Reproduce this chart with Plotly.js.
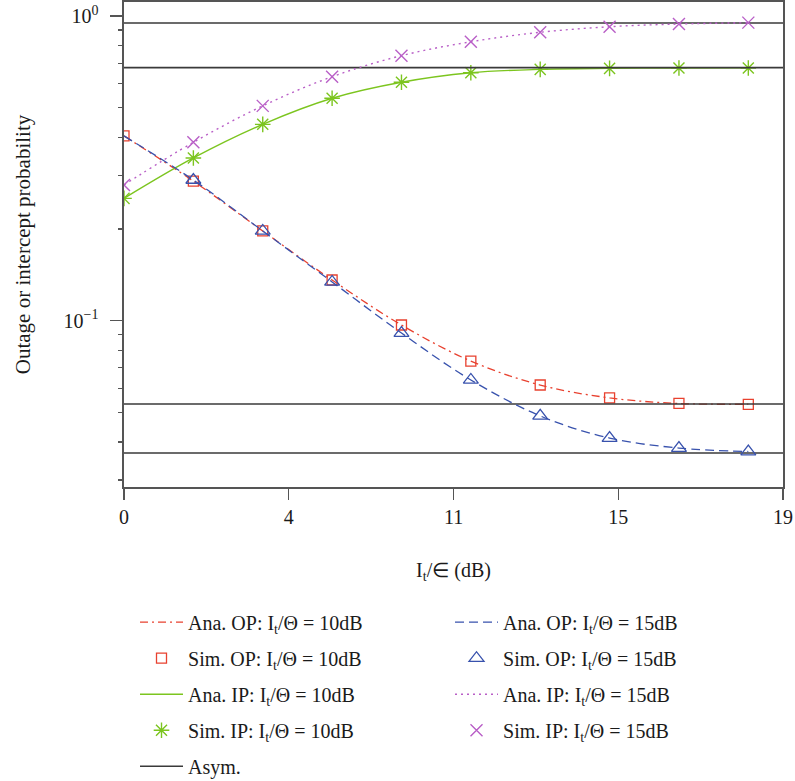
<!DOCTYPE html>
<html>
<head>
<meta charset="utf-8">
<script src="https://cdn.plot.ly/plotly-3.0.1.min.js"></script>
<style>
  html, body { margin: 0; padding: 0; background: #ffffff; }
  #chart { width: 795px; height: 781px; }
</style>
</head>
<body>
<div id="chart"></div>
<script>
// Transmit-power-to-threshold ratio I_t/∈ (dB), sampled points
const xVals = [0, 2, 4, 6, 8, 10, 12, 14, 16, 18];
// Simulated OP at 15 dB: first sample sits just left of the origin
const xSimOP15 = [-0.2, 2, 4, 6, 8, 10, 12, 14, 16, 18];

// Outage probability (OP), I_t/Θ = 10 dB
const opAna10 = [0.404, 0.287, 0.197, 0.136, 0.0968, 0.0737, 0.0615, 0.0558, 0.0535, 0.0532];
const opSim10 = [0.404, 0.287, 0.197, 0.136, 0.0968, 0.0737, 0.0615, 0.0558, 0.0535, 0.0531];
// Outage probability (OP), I_t/Θ = 15 dB
const opAna15 = [0.404, 0.2895, 0.197, 0.134, 0.0911, 0.0639, 0.0487, 0.0412, 0.0382, 0.0372];
const opSim15 = [0.407, 0.2895, 0.197, 0.134, 0.0911, 0.0639, 0.0487, 0.0412, 0.0382, 0.0372];
// Intercept probability (IP), I_t/Θ = 10 dB
const ipAna10 = [0.252, 0.342, 0.441, 0.537, 0.606, 0.651, 0.668, 0.673, 0.675, 0.676];
const ipSim10 = [0.252, 0.342, 0.441, 0.537, 0.606, 0.651, 0.668, 0.673, 0.675, 0.675];
// Intercept probability (IP), I_t/Θ = 15 dB
const ipAna15 = [0.279, 0.385, 0.507, 0.632, 0.741, 0.823, 0.884, 0.922, 0.941, 0.950];
const ipSim15 = [0.279, 0.385, 0.507, 0.632, 0.741, 0.823, 0.884, 0.922, 0.941, 0.951];

// High-SNR asymptotes
const asymLevels = [0.948, 0.677, 0.0533, 0.0368];
const xSpan = [0, 19];

// Axis ticks
const xTickVals = [0, 4.75, 9.5, 14.25, 19];
const xTickText = ['0', '4', '11', '15', '19'];
const yTickVals = [0.1, 1];
const yTickText = ['10<sup>−1</sup>', '10<sup>0</sup>'];
const yMinorVals = [0.03, 0.04, 0.05, 0.06, 0.07, 0.08, 0.09, 0.2, 0.3, 0.4, 0.5, 0.6, 0.7, 0.8, 0.9];

const FONT = 'Liberation Serif, Times New Roman, serif';
const INK = '#1a1a1a';
const RED = '#e8412f', BLUE = '#3852ad', GREEN = '#7cc51f', PURPLE = '#b95fc7', ASYM = '#3a3a3a';

const label = (kind, db) => kind + ': I<sub>t</sub>/Θ = ' + db + 'dB';

// build the asymptote polyline: one horizontal segment per level
const asymX = [], asymY = [];
asymLevels.forEach(v => { asymX.push(xSpan[0], xSpan[1], null); asymY.push(v, v, null); });

const traces = [
  { x: xVals, y: opAna10, mode: 'lines', name: label('Ana. OP', 10), legend: 'legend', legendgroup: 'a1',
    line: { color: RED, width: 1.3, dash: '8px,4px,2px,4px', shape: 'spline' } },
  { x: xVals, y: opSim10, mode: 'markers', name: label('Sim. OP', 10), legend: 'legend', legendgroup: 'a2',
    marker: { symbol: 'square-open', size: 10, color: RED, line: { width: 1.3 } } },
  { x: xVals, y: ipAna10, mode: 'lines', name: label('Ana. IP', 10), legend: 'legend', legendgroup: 'a3',
    line: { color: GREEN, width: 1.4, shape: 'spline' } },
  { x: xVals, y: ipSim10, mode: 'markers', name: label('Sim. IP', 10), legend: 'legend', legendgroup: 'a4',
    marker: { symbol: 'asterisk-open', size: 13, color: GREEN, line: { width: 1.4, color: GREEN } } },
  { x: asymX, y: asymY, mode: 'lines', name: 'Asym.', legend: 'legend', legendgroup: 'a5',
    line: { color: ASYM, width: 1.6 } },

  { x: xVals, y: opAna15, mode: 'lines', name: label('Ana. OP', 15), legend: 'legend2', legendgroup: 'b1',
    line: { color: BLUE, width: 1.3, dash: '9px,5px', shape: 'spline' } },
  { x: xSimOP15, y: opSim15, mode: 'markers', name: label('Sim. OP', 15), legend: 'legend2', legendgroup: 'b2',
    cliponaxis: false,
    marker: { symbol: 'triangle-up-open', size: 13, color: BLUE, line: { width: 1.3 } } },
  { x: xVals, y: ipAna15, mode: 'lines', name: label('Ana. IP', 15), legend: 'legend2', legendgroup: 'b3',
    line: { color: PURPLE, width: 1.4, dash: '2px,4px', shape: 'spline' } },
  { x: xVals, y: ipSim15, mode: 'markers', name: label('Sim. IP', 15), legend: 'legend2', legendgroup: 'b4',
    marker: { symbol: 'x-thin-open', size: 12, color: PURPLE, line: { width: 1.4, color: PURPLE } } }
];

// two legend columns under the plot
const legendCommon = {
  orientation: 'v', yanchor: 'top', xanchor: 'left',
  bgcolor: 'rgba(0,0,0,0)', borderwidth: 0,
  font: { family: FONT, size: 20, color: INK },
  tracegroupgap: 7, itemwidth: 43
};

const layout = {
  width: 795, height: 781,
  margin: { l: 124, r: 12, t: 2, b: 294, autoexpand: false },
  paper_bgcolor: '#ffffff', plot_bgcolor: '#ffffff',
  font: { family: FONT, size: 20, color: INK },
  showlegend: true,
  legend: Object.assign({ x: 0.0167, y: -0.2386 }, legendCommon),
  legend2: Object.assign({ x: 0.4947, y: -0.2386 }, legendCommon),
  xaxis: {
    range: [0, 19],
    tickmode: 'array', tickvals: xTickVals, ticktext: xTickText,
    ticks: 'outside', ticklen: 11, tickwidth: 1.4, tickcolor: '#555',
    showline: true, linecolor: '#555', linewidth: 1.6, mirror: true,
    showgrid: false, zeroline: false,
    tickfont: { family: FONT, size: 20, color: INK },
    title: { text: 'I<sub>t</sub>/∈ (dB)', font: { family: FONT, size: 20, color: INK }, standoff: 36 }
  },
  yaxis: {
    type: 'log', range: [-1.5458, 0.0459],
    tickmode: 'array', tickvals: yTickVals, ticktext: yTickText,
    ticks: 'outside', ticklen: 12, tickwidth: 1.4, tickcolor: '#555',
    ticklabelstandoff: 8,
    minor: { tickmode: 'array', tickvals: yMinorVals, ticks: 'outside', ticklen: 4, tickwidth: 1.2, tickcolor: '#555', showgrid: false },
    showline: true, linecolor: '#555', linewidth: 1.6, mirror: true,
    showgrid: false, zeroline: false,
    tickfont: { family: FONT, size: 20, color: INK },
    title: { text: 'Outage or intercept probability', font: { family: FONT, size: 21, color: INK }, standoff: 27 }
  }
};

Plotly.newPlot('chart', traces, layout, { displayModeBar: false, staticPlot: true });
</script>
</body>
</html>
